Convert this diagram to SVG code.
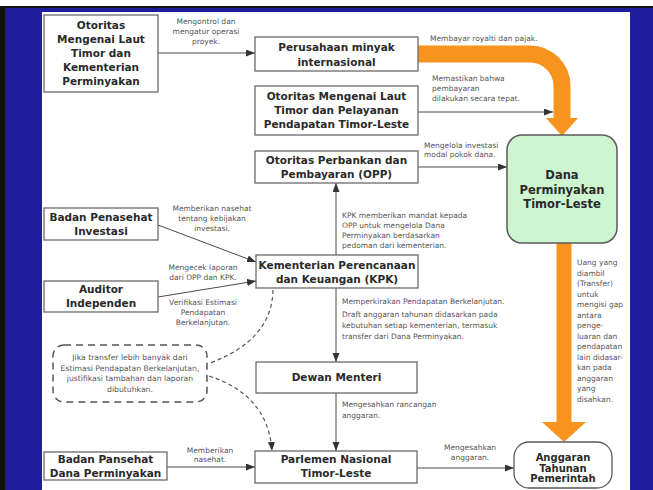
<svg xmlns="http://www.w3.org/2000/svg" width="653" height="490" viewBox="0 0 653 490">
<defs>
<style>
.box{fill:#fff;stroke:#6a6a6a;stroke-width:1.3}
.bt{font-family:"DejaVu Sans",Verdana,sans-serif;font-weight:bold;font-size:10.5px;fill:#2a2a2a;text-anchor:middle}
.lb{font-family:"DejaVu Sans",Verdana,sans-serif;font-size:7.5px;fill:#555}
.lc{text-anchor:middle}
.ln{fill:none;stroke:#4a4a4a;stroke-width:1}
.dl{fill:none;stroke:#555;stroke-width:1.2;stroke-dasharray:4 3}
.or{fill:none;stroke:#F7941D}
</style>
<marker id="ah" markerUnits="userSpaceOnUse" markerWidth="10" markerHeight="8" refX="9" refY="3.5" orient="auto">
<path d="M0,0 L9,3.5 L0,7 z" fill="#333"/>
</marker>
</defs>
<rect x="0" y="0" width="653" height="490" fill="#fff"/>
<rect x="0" y="6" width="653" height="484" fill="#111"/>
<rect x="5" y="8" width="648" height="482" fill="#1F1D9B"/>
<rect x="42" y="12" width="588" height="478" fill="#fff"/>

<g id="connectors">
<path class="or" stroke-width="17" d="M418,54 H530 A32,32 0 0 1 562,86 V120"/>
<polygon points="546,118 578,118 562,136" fill="#F7941D"/>
<path class="or" stroke-width="15" d="M564,243 V424"/>
<polygon points="542,422 586,422 564,442" fill="#F7941D"/>
<path class="ln" marker-end="url(#ah)" d="M158,53 H255"/>
<path class="ln" marker-end="url(#ah)" d="M418,112 H553"/>
<path class="ln" marker-end="url(#ah)" d="M418,167 H507"/>
<path class="ln" marker-end="url(#ah)" d="M336,255 V183"/>
<path class="ln" marker-end="url(#ah)" d="M158,225 L256,262"/>
<path class="ln" marker-end="url(#ah)" d="M158,297 L256,281"/>
<path class="ln" marker-end="url(#ah)" d="M336,288 V362"/>
<path class="ln" marker-end="url(#ah)" d="M336,393 V451"/>
<path class="ln" marker-end="url(#ah)" d="M167,467 H255"/>
<path class="ln" marker-end="url(#ah)" d="M417,468 H514"/>
<path class="dl" d="M273,290 Q272,340 210,363"/>
<path class="dl" marker-end="url(#ah)" d="M209,376 Q268,395 272,451"/>
<text class="lb lc" x="206" y="23.5">Mengontrol dan</text>
<text class="lb lc" x="206" y="33.5">mengatur operasi</text>
<text class="lb lc" x="206" y="43.5">proyek.</text>
<text class="lb" x="430" y="40.5">Membayar royalti dan pajak.</text>
<text class="lb" x="432" y="80.5">Memastikan bahwa</text>
<text class="lb" x="432" y="90.5">pembayaran</text>
<text class="lb" x="432" y="100.5">dilakukan secara tepat.</text>
<text class="lb" x="424" y="147.5">Mengelola investasi</text>
<text class="lb" x="424" y="157">modal pokok dana.</text>
<text class="lb" x="342" y="217.5">KPK memberikan mandat kepada</text>
<text class="lb" x="342" y="227.5">OPP untuk mengelola Dana</text>
<text class="lb" x="342" y="237.5">Perminyakan berdasarkan</text>
<text class="lb" x="342" y="247.5">pedoman dari kementerian.</text>
<text class="lb lc" x="212" y="210.5">Memberikan nasehat</text>
<text class="lb lc" x="212" y="220.5">tentang kebijakan</text>
<text class="lb lc" x="212" y="230.5">investasi.</text>
<text class="lb lc" x="203" y="269.5">Mengecek laporan</text>
<text class="lb lc" x="203" y="280">dari OPP dan KPK.</text>
<text class="lb lc" x="203" y="304.5">Verifikasi Estimasi</text>
<text class="lb lc" x="203" y="314.5">Pendapatan</text>
<text class="lb lc" x="203" y="324.5">Berkelanjutan.</text>
<text class="lb" x="342" y="303.5">Memperkirakan Pendapatan Berkelanjutan.</text>
<text class="lb" x="342" y="316.5">Draft anggaran tahunan didasarkan pada</text>
<text class="lb" x="342" y="327.5">kebutuhan setiap kementerian, termasuk</text>
<text class="lb" x="342" y="338.5">transfer dari Dana Perminyakan.</text>
<text class="lb" x="342" y="406.5">Mengesahkan rancangan</text>
<text class="lb" x="342" y="417.5">anggaran.</text>
<text class="lb lc" x="210" y="453">Memberikan</text>
<text class="lb lc" x="210" y="462">nasehat.</text>
<text class="lb lc" x="470" y="449.5">Mengesahkan</text>
<text class="lb lc" x="470" y="459.5">anggaran.</text>
<text class="lb" x="577" y="265">Uang yang</text>
<text class="lb" x="577" y="275.5">diambil</text>
<text class="lb" x="577" y="286">(Transfer)</text>
<text class="lb" x="577" y="296.5">untuk</text>
<text class="lb" x="577" y="307">mengisi gap</text>
<text class="lb" x="577" y="317.5">antara</text>
<text class="lb" x="577" y="328">penge-</text>
<text class="lb" x="577" y="338.5">luaran dan</text>
<text class="lb" x="577" y="349">pendapatan</text>
<text class="lb" x="577" y="359.5">lain didasar-</text>
<text class="lb" x="577" y="370">kan pada</text>
<text class="lb" x="577" y="380.5">anggaran</text>
<text class="lb" x="577" y="391">yang</text>
<text class="lb" x="577" y="401.5">disahkan.</text>
</g>

<g id="n-otoritas-laut-kementerian">
<rect class="box" x="44" y="15" width="114" height="77"/>
<text class="bt" x="101" y="29">Otoritas</text>
<text class="bt" x="101" y="43">Mengenai Laut</text>
<text class="bt" x="101" y="57">Timor dan</text>
<text class="bt" x="101" y="71">Kementerian</text>
<text class="bt" x="101" y="85">Perminyakan</text>
</g>
<g id="n-perusahaan">
<rect class="box" x="255" y="37" width="163" height="34"/>
<text class="bt" x="336.5" y="51">Perusahaan minyak</text>
<text class="bt" x="336.5" y="65.5">internasional</text>
</g>
<g id="n-otoritas-pelayanan">
<rect class="box" x="255" y="86" width="163" height="49"/>
<text class="bt" x="336.5" y="100">Otoritas Mengenai Laut</text>
<text class="bt" x="336.5" y="114">Timor dan Pelayanan</text>
<text class="bt" x="336.5" y="128">Pendapatan Timor-Leste</text>
</g>
<g id="n-opp">
<rect class="box" x="255" y="151" width="163" height="32"/>
<text class="bt" x="336.5" y="164">Otoritas Perbankan dan</text>
<text class="bt" x="336.5" y="178">Pembayaran (OPP)</text>
</g>
<g id="n-dana">
<rect x="507" y="135" width="110" height="108" rx="15" fill="#CCF5D0" stroke="#5a5a5a" stroke-width="1.5"/>
<text class="bt" x="562" y="179" style="font-size:11.5px">Dana</text>
<text class="bt" x="562" y="193.5" style="font-size:11.5px">Perminyakan</text>
<text class="bt" x="562" y="208" style="font-size:11.5px">Timor-Leste</text>
</g>
<g id="n-badan-investasi">
<rect class="box" x="44" y="208" width="114" height="32"/>
<text class="bt" x="101" y="221">Badan Penasehat</text>
<text class="bt" x="101" y="234.5">Investasi</text>
</g>
<g id="n-kpk">
<rect class="box" x="256" y="255" width="162" height="33"/>
<text class="bt" x="337" y="269">Kementerian Perencanaan</text>
<text class="bt" x="337" y="282.5">dan Keuangan (KPK)</text>
</g>
<g id="n-auditor">
<rect class="box" x="44" y="281" width="114" height="31"/>
<text class="bt" x="101" y="293">Auditor</text>
<text class="bt" x="101" y="307">Independen</text>
</g>
<g id="n-dashed-note">
<rect x="53" y="345" width="154" height="57" rx="11" fill="#fff" stroke="#555" stroke-width="1.5" stroke-dasharray="7 5"/>
<text class="lb lc" x="130" y="359.5" style="font-size:7.7px">Jika transfer lebih banyak dari</text>
<text class="lb lc" x="130" y="370.5" style="font-size:7.7px">Estimasi Pendapatan Berkelanjutan,</text>
<text class="lb lc" x="130" y="381" style="font-size:7.7px">justifikasi tambahan dan laporan</text>
<text class="lb lc" x="130" y="391.5" style="font-size:7.7px">dibutuhkan.</text>
</g>
<g id="n-dewan">
<rect class="box" x="256" y="362" width="161" height="31"/>
<text class="bt" x="336.5" y="381">Dewan Menteri</text>
</g>
<g id="n-badan-dana">
<rect class="box" x="44" y="452" width="123" height="28"/>
<text class="bt" x="105.5" y="463">Badan Pansehat</text>
<text class="bt" x="105.5" y="477">Dana Perminyakan</text>
</g>
<g id="n-parlemen">
<rect class="box" x="255" y="451" width="162" height="32"/>
<text class="bt" x="336" y="463">Parlemen Nasional</text>
<text class="bt" x="336" y="477">Timor-Leste</text>
</g>
<g id="n-anggaran">
<rect x="514" y="442" width="98" height="46" rx="15" fill="#fff" stroke="#5a5a5a" stroke-width="1.3"/>
<text class="bt" x="563" y="461" style="font-size:10px">Anggaran</text>
<text class="bt" x="563" y="471.5" style="font-size:10px">Tahunan</text>
<text class="bt" x="563" y="482" style="font-size:10px">Pemerintah</text>
</g>
</svg>
